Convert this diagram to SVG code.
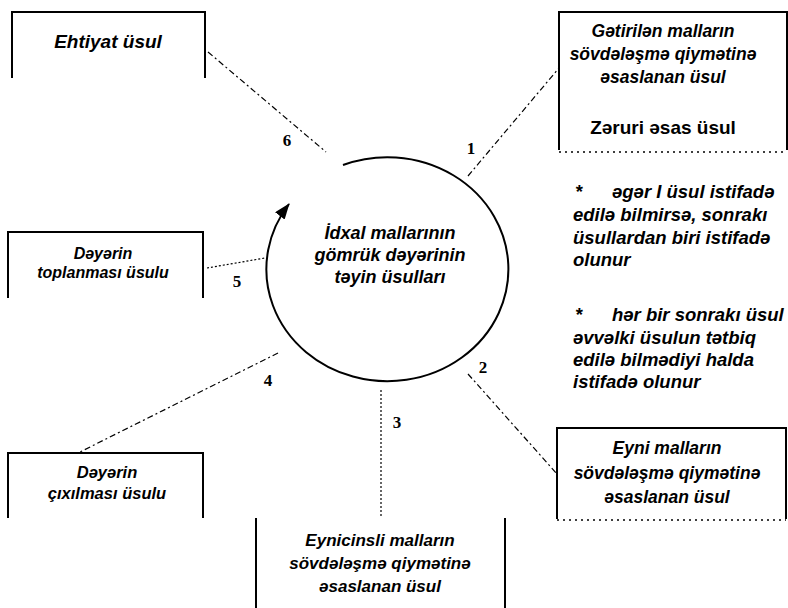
<svg xmlns="http://www.w3.org/2000/svg" width="788" height="608" viewBox="0 0 788 608">
<defs>
<style>
.t{font-family:"Liberation Sans","DejaVu Sans",sans-serif;font-weight:bold;font-style:italic;font-size:18px;fill:#000;text-anchor:middle}
.tl{font-family:"Liberation Sans","DejaVu Sans",sans-serif;font-weight:bold;font-style:italic;font-size:18.5px;fill:#000}
.n{font-family:"Liberation Serif","DejaVu Serif",serif;font-weight:bold;font-size:17px;fill:#000;text-anchor:middle}
.b{fill:none;stroke:#000;stroke-width:2}
.bd{fill:none;stroke:#000;stroke-width:1.5;stroke-dasharray:2 4}
.c{fill:none;stroke:#000;stroke-width:1.2;stroke-dasharray:6 3 2 3}
.cd{fill:none;stroke:#000;stroke-width:1.2;stroke-dasharray:2 2}
</style>
<marker id="ah" markerWidth="16" markerHeight="12" refX="15" refY="6" orient="auto" markerUnits="userSpaceOnUse">
<path d="M0,0 L16,6 L0,12 Z" fill="#000"/>
</marker>
</defs>

<g id="center">
<path d="M343,165 A121,112 0 1 1 289,204" fill="none" stroke="#000" stroke-width="2" marker-end="url(#ah)"/>
<text class="t" x="390" y="239">İdxal mallarının</text>
<text class="t" x="390" y="261">gömrük dəyərinin</text>
<text class="t" x="390" y="283">təyin üsulları</text>
</g>

<g id="connectors">
<line class="c" x1="208" y1="52" x2="326" y2="152"/>
<line class="c" x1="468" y1="176" x2="559" y2="68"/>
<line class="c" x1="468" y1="374" x2="557" y2="474"/>
<line class="cd" x1="381" y1="390" x2="381" y2="518"/>
<line class="c" x1="278" y1="353" x2="80" y2="452"/>
<line class="cd" x1="207" y1="268" x2="265" y2="258"/>
<text class="n" x="287" y="146">6</text>
<text class="n" x="471" y="154">1</text>
<text class="n" x="483" y="373">2</text>
<text class="n" x="397" y="428">3</text>
<text class="n" x="268" y="386">4</text>
<text class="n" x="237" y="287">5</text>
</g>

<g id="node6">
<path class="b" d="M12,78 V12 H205 V78"/>
<text class="t" x="108" y="48" style="font-size:19px">Ehtiyat üsul</text>
</g>

<g id="node1">
<path class="b" d="M559,150 V12 H787 V150"/>
<line class="bd" x1="559" y1="152" x2="787" y2="152"/>
<text class="t" x="663" y="37" style="font-size:17.5px">Gətirilən malların</text>
<text class="t" x="663" y="60" style="font-size:17.5px">sövdələşmə qiymətinə</text>
<text class="t" x="663" y="83" style="font-size:17.5px">əsaslanan üsul</text>
<text x="663" y="134" style="font-family:'Liberation Sans','DejaVu Sans',sans-serif;font-weight:bold;font-size:19px;text-anchor:middle">Zəruri əsas üsul</text>
</g>

<g id="notes">
<text class="tl" x="575" y="198">*<tspan x="612">əgər I üsul istifadə</tspan></text>
<text class="tl" x="573" y="221">edilə bilmirsə, sonrakı</text>
<text class="tl" x="573" y="244">üsullardan biri istifadə</text>
<text class="tl" x="573" y="266">olunur</text>
<text class="tl" x="575" y="321">*<tspan x="612">hər bir sonrakı üsul</tspan></text>
<text class="tl" x="573" y="344">əvvəlki üsulun tətbiq</text>
<text class="tl" x="573" y="366">edilə bilmədiyi halda</text>
<text class="tl" x="573" y="388">istifadə olunur</text>
</g>

<g id="node2">
<path class="b" d="M557,519 V428 H786 V519"/>
<line class="bd" x1="557" y1="520" x2="786" y2="520"/>
<text class="t" x="667" y="454" style="font-size:17.5px">Eyni malların</text>
<text class="t" x="667" y="479" style="font-size:17.5px">sövdələşmə qiymətinə</text>
<text class="t" x="667" y="503" style="font-size:17.5px">əsaslanan üsul</text>
</g>

<g id="node3">
<path class="b" d="M256,608 V518"/>
<path class="b" d="M505,608 V518"/>
<text class="t" x="380" y="546" style="font-size:17px">Eynicinsli malların</text>
<text class="t" x="380" y="569" style="font-size:17px">sövdələşmə qiymətinə</text>
<text class="t" x="380" y="592" style="font-size:17px">əsaslanan üsul</text>
</g>

<g id="node4">
<path class="b" d="M8,518 V453 H203 V518"/>
<text class="t" x="107" y="478" style="font-size:16.5px">Dəyərin</text>
<text class="t" x="107" y="499" style="font-size:16.5px">çıxılması üsulu</text>
</g>

<g id="node5">
<path class="b" d="M8,298 V232 H203 V298"/>
<text class="t" x="103" y="259" style="font-size:16px">Dəyərin</text>
<text class="t" x="103" y="278" style="font-size:16px">toplanması üsulu</text>
</g>
</svg>
